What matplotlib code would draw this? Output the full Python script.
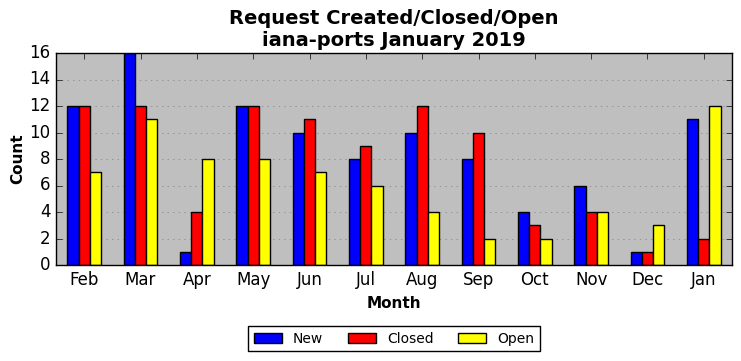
import matplotlib
matplotlib.use('Agg')
import matplotlib.pyplot as plt
import numpy as np

plt.style.use('classic')

months = ['Feb', 'Mar', 'Apr', 'May', 'Jun', 'Jul', 'Aug', 'Sep', 'Oct', 'Nov', 'Dec', 'Jan']
new = [12, 16, 1, 12, 10, 8, 10, 8, 4, 6, 1, 11]
closed = [12, 12, 4, 12, 11, 9, 12, 10, 3, 4, 1, 2]
opened = [7, 11, 8, 8, 7, 6, 4, 2, 2, 4, 3, 12]

fig = plt.figure(figsize=(7.41, 3.61), dpi=100)
ax = fig.add_axes([56 / 741, 1 - 265 / 361, 676 / 741, 212 / 361])
ax.set_facecolor('#bfbfbf')

x = np.arange(len(months))
w = 0.2
ax.bar(x - w, new, w, color='blue', label='New', align='center')
ax.bar(x, closed, w, color='red', label='Closed', align='center')
ax.bar(x + w, opened, w, color='yellow', label='Open', align='center')

ax.set_xlim(-0.5, len(months) - 0.5)
ax.set_ylim(0, 16)
ax.set_yticks(range(0, 17, 2))
ax.set_xticks(x)
ax.set_xticklabels(months)
ax.tick_params(labelsize=12)
ax.yaxis.grid(True, color='gray', linestyle=':')
ax.set_axisbelow(True)

ax.set_xlabel('Month', fontsize=11, fontweight='bold')
ax.set_ylabel('Count', fontsize=11, fontweight='bold', labelpad=3)
ax.set_title('Request Created/Closed/Open\niana-ports January 2019', fontsize=14, fontweight='bold')

ax.legend(loc='upper center', bbox_to_anchor=(0.5, -0.255), ncol=3, fontsize=10,
          columnspacing=1.8)

fig.savefig('out.png', dpi=100)
